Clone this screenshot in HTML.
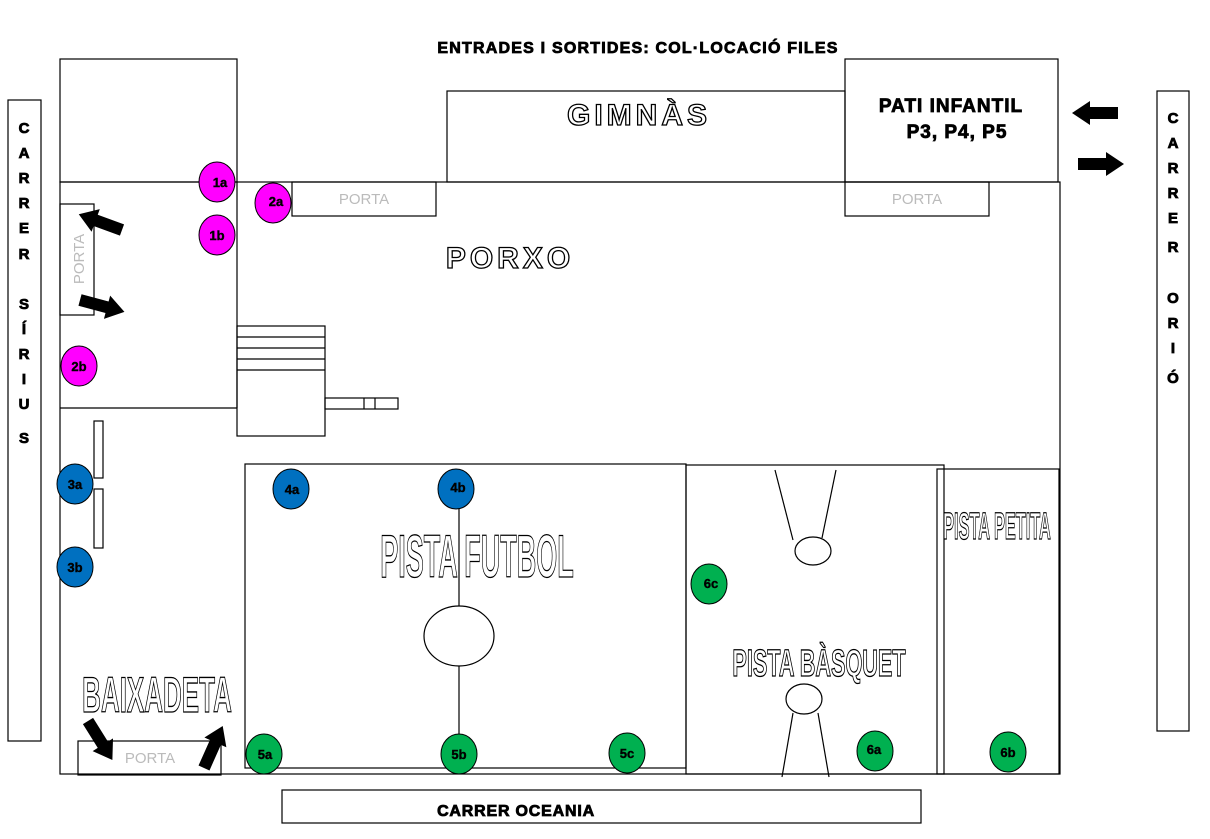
<!DOCTYPE html>
<html><head><meta charset="utf-8"><style>
body{margin:0;background:#fff}
svg{display:block}
.ot{fill:#fff;stroke:#000;stroke-width:1.3;font-family:"Liberation Sans",sans-serif;font-weight:bold}
.b{font-family:"Liberation Sans",sans-serif;font-weight:bold;fill:#000;stroke:#000;stroke-width:0.8}
.p{font-family:"Liberation Sans",sans-serif;fill:#bbb;font-size:15px}
.c{font-family:"Liberation Sans",sans-serif;font-weight:bold;font-size:13px;fill:#000;text-anchor:middle;stroke:#000;stroke-width:0.4}
</style></head><body>
<svg width="1210" height="839" viewBox="0 0 1210 839">
<defs>
<polygon id="ar" points="0,-6 28,-6 28,-12 46,0 28,12 28,6 0,6" fill="#000"/>
</defs>
<g fill="none" stroke="#000" stroke-width="1.2">
<rect x="60" y="59" width="177" height="123"/>
<rect x="447" y="91" width="398" height="91"/>
<rect x="845" y="59" width="213" height="123"/>
<rect x="60" y="182" width="1000" height="592"/>
<rect x="292" y="182" width="144" height="34"/>
<rect x="845" y="182" width="144" height="34"/>
<line x1="237" y1="182" x2="237" y2="408"/>
<line x1="60" y1="408" x2="237" y2="408"/>
<rect x="60" y="204" width="34" height="111"/>
<rect x="237" y="326" width="88" height="110"/>
<line x1="237" y1="337" x2="325" y2="337"/>
<line x1="237" y1="348" x2="325" y2="348"/>
<line x1="237" y1="359" x2="325" y2="359"/>
<line x1="237" y1="370" x2="325" y2="370"/>
<rect x="325" y="398" width="73" height="11"/>
<line x1="364" y1="398" x2="364" y2="409"/><line x1="375" y1="398" x2="375" y2="409"/>
<rect x="94" y="421" width="9" height="57"/>
<rect x="94" y="489" width="9" height="59"/>
<rect x="245" y="464" width="441" height="304"/>
<rect x="686" y="465" width="258" height="309"/>
<rect x="937" y="469" width="122" height="305"/>
<rect x="78" y="741" width="143" height="34"/>
<rect x="8" y="100" width="33" height="641"/>
<rect x="1157" y="91" width="32" height="640"/>
<rect x="282" y="790" width="639" height="33"/>
<line x1="459" y1="489" x2="459" y2="754"/>
<ellipse cx="459" cy="636" rx="35" ry="30" fill="#fff"/>
<line x1="775" y1="470" x2="793" y2="540"/><line x1="836" y1="470" x2="822" y2="538"/>
<ellipse cx="813" cy="551" rx="18" ry="14"/>
<ellipse cx="804" cy="699" rx="18" ry="15"/>
<line x1="793" y1="713" x2="782" y2="777"/><line x1="818" y1="713" x2="829" y2="777"/>
</g>
<text x="638" y="53" class="b" font-size="16" text-anchor="middle" letter-spacing="1.2">ENTRADES I SORTIDES: COL·LOCACIÓ FILES</text>
<text x="639" y="125" class="ot" font-size="30" text-anchor="middle" letter-spacing="4" stroke-width="1.8">GIMNÀS</text>
<text x="510" y="268" class="ot" font-size="30" text-anchor="middle" letter-spacing="4" stroke-width="1.8">PORXO</text>
<text x="951" y="112" class="b" font-size="19" text-anchor="middle" letter-spacing="1">PATI INFANTIL</text>
<text x="957" y="138" class="b" font-size="19" text-anchor="middle" letter-spacing="1">P3, P4, P5</text>
<text x="364" y="204" class="p" text-anchor="middle">PORTA</text>
<text x="917" y="204" class="p" text-anchor="middle">PORTA</text>
<text x="150" y="763" class="p" text-anchor="middle">PORTA</text>
<text transform="translate(84,259) rotate(-90)" class="p" text-anchor="middle">PORTA</text>
<text transform="translate(477,577) scale(0.45,1)" class="ot" font-size="60" text-anchor="middle">PISTA FUTBOL</text>
<text transform="translate(819,676) scale(0.57,1)" class="ot" font-size="38" text-anchor="middle">PISTA BÀSQUET</text>
<text transform="translate(997,539) scale(0.43,1)" class="ot" font-size="38" text-anchor="middle">PISTA PETITA</text>
<text transform="translate(157,712) scale(0.52,1)" class="ot" font-size="50" text-anchor="middle">BAIXADETA</text>
<text x="516" y="816" class="b" font-size="16" text-anchor="middle" letter-spacing="0.8">CARRER OCEANIA</text>
<g class="b" font-size="15" text-anchor="middle">
<text x="24" y="133">C</text><text x="24" y="158">A</text><text x="24" y="183">R</text><text x="24" y="208">R</text><text x="24" y="233">E</text><text x="24" y="259">R</text>
<text x="24" y="309">S</text><text x="24" y="334">Í</text><text x="24" y="359">R</text><text x="24" y="384">I</text><text x="24" y="409">U</text><text x="24" y="443">S</text>
<text x="1173" y="123">C</text><text x="1173" y="148">A</text><text x="1173" y="173">R</text><text x="1173" y="198">R</text><text x="1173" y="223">E</text><text x="1173" y="252">R</text>
<text x="1173" y="303">O</text><text x="1173" y="328">R</text><text x="1173" y="353">I</text><text x="1173" y="383">Ó</text>
</g>
<use href="#ar" transform="translate(1118,113) rotate(180)"/>
<use href="#ar" transform="translate(1078,164)"/>
<use href="#ar" transform="translate(122,230) rotate(200)"/>
<use href="#ar" transform="translate(80,300) rotate(15)"/>
<use href="#ar" transform="translate(88,721) rotate(58)"/>
<use href="#ar" transform="translate(204,768) rotate(-66)"/>
<g stroke="#000" stroke-width="1">
<g fill="#f0f"><ellipse cx="217" cy="182" rx="18" ry="20"/><ellipse cx="217" cy="235" rx="18" ry="20"/><ellipse cx="273" cy="203" rx="18" ry="20"/><ellipse cx="79" cy="366" rx="18" ry="20"/></g>
<g fill="#0070c0"><ellipse cx="75" cy="484" rx="18" ry="20"/><ellipse cx="75" cy="567" rx="18" ry="20"/><ellipse cx="291" cy="489" rx="18" ry="20"/><ellipse cx="456" cy="489" rx="18" ry="20"/></g>
<g fill="#00b050"><ellipse cx="264" cy="754" rx="18" ry="20"/><ellipse cx="459" cy="754" rx="18" ry="20"/><ellipse cx="627" cy="753" rx="18" ry="20"/><ellipse cx="875" cy="751" rx="18" ry="20"/><ellipse cx="1008" cy="752" rx="18" ry="20"/><ellipse cx="709" cy="584" rx="18" ry="20"/></g>
</g>
<g class="c">
<text x="220" y="187">1a</text><text x="217" y="240">1b</text><text x="276" y="206">2a</text><text x="79" y="371">2b</text>
<text x="75" y="489">3a</text><text x="75" y="572">3b</text><text x="292" y="494">4a</text><text x="458" y="492">4b</text>
<text x="265" y="759">5a</text><text x="459" y="759">5b</text><text x="627" y="758">5c</text><text x="874" y="754">6a</text><text x="1008" y="757">6b</text><text x="711" y="588">6c</text>
</g>
</svg>
</body></html>
